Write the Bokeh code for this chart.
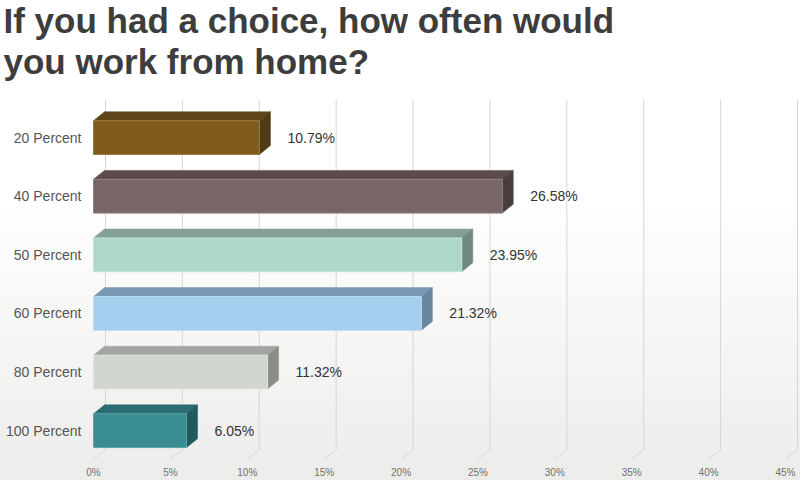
from bokeh.plotting import figure
from bokeh.models import Range1d, FixedTicker, ColumnDataSource, Label
from bokeh.core.properties import value
from bokeh.embed import file_html
from bokeh.resources import INLINE

# ---- data ----
categories = ["20 Percent", "40 Percent", "50 Percent", "60 Percent", "80 Percent", "100 Percent"]
percents = [10.79, 26.58, 23.95, 21.32, 11.32, 6.05]
x_ticks = [0, 5, 10, 15, 20, 25, 30, 35, 40, 45]
x_tick_labels = ["0%", "5%", "10%", "15%", "20%", "25%", "30%", "35%", "40%", "45%"]
title_text = "If you had a choice, how often would\nyou work from home?"

# ---- styles ----
front_colors = ["#7f5c1e", "#786567", "#acd7c9", "#a4cdee", "#d1d6d1", "#3a8e93"]
edge_colors = ["#9a7a40", "#938083", "#c3e4da", "#bcdcf4", "#e1e4e1", "#5aa5a9"]
top_colors = ["#5e4619", "#5b4b4d", "#83a093", "#7a98b3", "#a2a5a1", "#2b6d72"]
side_colors = ["#4e3a14", "#4b3d3f", "#6e8a80", "#6985a0", "#8a8e89", "#245a5e"]

W, H = 800, 480
BOTTOM = 18                     # room for the x axis labels
ZERO_X = 93                     # canvas x of 0 %
END_X = 785                     # canvas x of 45 %
GRID_TOP = 100                  # canvas y where the back wall starts
XMAX = 45.0
px_x = (END_X - ZERO_X) / XMAX  # pixels per percent
ROW = 59.0                      # pixels per category
first_center = 138.0            # canvas y of first category centre


def cy(canvas_y):
    return (canvas_y - first_center) / ROW


def cx(canvas_x):
    return (canvas_x - ZERO_X) / px_x


bar_dx, bar_dy = 11 / px_x, 9 / ROW
grid_dx, grid_dy = 12 / px_x, 9 / ROW
half = 17 / ROW

p = figure(width=W, height=H, output_backend="svg", toolbar_location=None,
           x_range=Range1d(cx(0), cx(W)), y_range=Range1d(cy(H - BOTTOM), cy(0)),
           min_border_left=0, min_border_right=0,
           min_border_top=0, min_border_bottom=BOTTOM)
p.background_fill_color = None
p.border_fill_color = None
p.outline_line_color = None
p.styles = {"background": "linear-gradient(to bottom, #ffffff 0%, #ffffff 41.6%, #ececea 100%)"}
p.xgrid.visible = False
p.ygrid.visible = False
p.yaxis.visible = False

# title
p.add_layout(Label(x=cx(3), y=cy(0), x_units="data", y_units="data",
                   text=title_text,
                   text_font="Liberation Sans", text_font_style="bold",
                   text_font_size="35px", text_color="#3d3d3d",
                   text_baseline="top", text_align="left", text_line_height=1.06))

# gridlines (3D back wall + floor diagonal)
g_front = cy(H - BOTTOM) - 0.6 / ROW
g_back = g_front - grid_dy
gx, gy = [], []
for t in x_ticks:
    gx.append([t, t + grid_dx, t + grid_dx])
    gy.append([g_front, g_back, cy(GRID_TOP)])
p.multi_line(gx, gy, line_color="#d6d6d6", line_width=1)

# 3D bars
n = len(categories)
fx, fy, tx, ty, sx, sy = [], [], [], [], [], []
for i, v in enumerate(percents):
    y0, y1 = i - half, i + half  # y0 = top edge (range reversed)
    fx.append([0, v, v, 0]); fy.append([y0, y0, y1, y1])
    tx.append([0, v, v + bar_dx, bar_dx]); ty.append([y0, y0, y0 - bar_dy, y0 - bar_dy])
    sx.append([v, v + bar_dx, v + bar_dx, v]); sy.append([y0, y0 - bar_dy, y1 - bar_dy, y1])

p.patches(tx, ty, fill_color=top_colors, line_color=top_colors, line_width=0.5)
p.patches(sx, sy, fill_color=side_colors, line_color=side_colors, line_width=0.5)
p.patches(fx, fy, fill_color=front_colors, line_color=edge_colors, line_width=1)

# value labels
lab = ColumnDataSource(dict(x=[v + 28 / px_x for v in percents],
                            y=list(range(n)),
                            t=["%.2f%%" % v for v in percents]))
p.text(x="x", y="y", text="t", source=lab, text_font=value("Liberation Sans"),
       text_font_size="14px", text_color="#333333", text_baseline="middle",
       text_align="left")

# category labels
cat = ColumnDataSource(dict(x=[cx(81)] * n, y=list(range(n)), t=categories))
p.text(x="x", y="y", text="t", source=cat, text_font=value("Liberation Sans"),
       text_font_size="14px", text_color="#555555", text_baseline="middle",
       text_align="right")

# x axis
p.xaxis.ticker = FixedTicker(ticks=x_ticks)
p.xaxis.major_label_overrides = {t: l for t, l in zip(x_ticks, x_tick_labels)}
p.xaxis.axis_line_color = None
p.xaxis.major_tick_line_color = None
p.xaxis.minor_tick_line_color = None
p.xaxis.major_tick_out = 0
p.xaxis.major_tick_in = 0
p.xaxis.major_label_standoff = 7
p.xaxis.major_label_text_font = "Liberation Sans"
p.xaxis.major_label_text_font_size = "10px"
p.xaxis.major_label_text_color = "#707070"

open("out.html", "w").write(file_html(p, INLINE))
